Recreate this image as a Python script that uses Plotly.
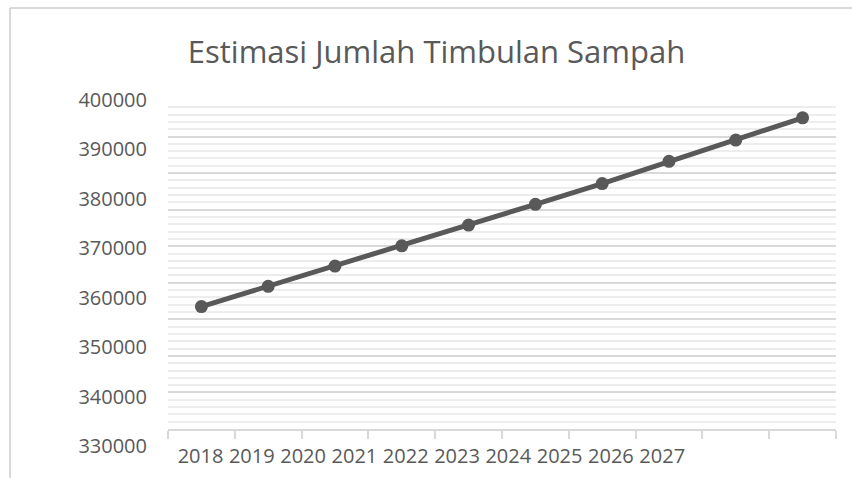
import plotly.graph_objects as go
import numpy as np

years = ["2018", "2019", "2020", "2021", "2022", "2023", "2024", "2025", "2026", "2027"]
values = [358200, 362300, 366400, 370500, 374700, 378900, 383100, 387600, 391900, 396400]
y_label_vals = [330000, 340000, 350000, 360000, 370000, 380000, 390000, 400000]
title_text = "Estimasi Jumlah Timbulan Sampah"

W, H = 852, 478
ML, MR, MT, MB = 100, 16, 100, 20
PW, PH = W - ML - MR, H - MT - MB

def px_x(px):
    return (px - ML) / PW

def px_y(py):
    return (H - MB - py) / PH

TXT = "#595959"
GRID = "#d9d9d9"
MINOR = "#ededed"
FONT = "Open Sans"

# data y-axis: same value->pixel scale as the label axis (400000 @ y=100, 330000 @ y=446)
scale = (446 - 100) / 70000.0
y_top = 400000
y_bot = y_top - (429 - 100) / scale
major = np.linspace(y_bot, y_top, 10)
minor = []
for a, b in zip(major[:-1], major[1:]):
    minor.extend(np.linspace(a, b, 6)[1:-1])

fig = go.Figure()
# invisible trace carrying the label axes
fig.add_trace(go.Scatter(
    x=list(range(len(years))), y=values, mode="markers",
    marker=dict(opacity=0), xaxis="x2", yaxis="y2",
    showlegend=False, hoverinfo="skip"))
fig.add_trace(go.Scatter(
    x=years, y=values, mode="lines+markers",
    line=dict(color="#595959", width=5),
    marker=dict(color="#595959", size=13),
    xaxis="x", yaxis="y", showlegend=False, hoverinfo="x+y"))

lab_step = 51.3
r0 = -(200.5 - 168) / lab_step
r1 = r0 + (836 - 168) / lab_step

fig.update_layout(
    width=W, height=H,
    margin=dict(l=ML, r=MR, t=MT, b=MB, autoexpand=False),
    paper_bgcolor="white", plot_bgcolor="rgba(0,0,0,0)",
    font=dict(family=FONT, color=TXT),
    title=dict(text=title_text, x=436.5 / W, xanchor="center",
               y=1 - 52 / H, yanchor="middle", yref="container",
               font=dict(size=31, color=TXT, family=FONT)),
    xaxis=dict(domain=[px_x(168), 1], type="category", range=[-0.5, 9.5],
               tickson="boundaries", ticks="outside", ticklen=8, tickwidth=2,
               tickcolor=GRID, showline=True, linecolor=GRID, linewidth=2,
               showgrid=False, showticklabels=False, anchor="y", zeroline=False,
               automargin=False),
    yaxis=dict(domain=[px_y(429), 1], range=[y_bot, y_top], tickvals=list(major),
               showticklabels=False, showgrid=True, gridcolor=GRID, gridwidth=2,
               minor=dict(tickvals=minor, showgrid=True, gridcolor=MINOR, gridwidth=2),
               zeroline=False, showline=False, anchor="x", automargin=False),
    xaxis2=dict(domain=[px_x(168), 1], range=[r0, r1], tickvals=list(range(len(years))),
                ticktext=years, anchor="free", position=px_y(442), showgrid=False,
                showline=False, zeroline=False, ticks="", automargin=False,
                tickfont=dict(size=20, color=TXT, family=FONT)),
    yaxis2=dict(domain=[px_y(446), 1], range=[330000, 400000], tickvals=y_label_vals,
                ticktext=[str(v) for v in y_label_vals], anchor="free", position=px_x(147),
                showgrid=False, showline=False, zeroline=False, ticks="", automargin=False,
                tickfont=dict(size=20, color=TXT, family=FONT)),
    shapes=[
        dict(type="line", xref="paper", yref="paper", x0=px_x(10), x1=px_x(10),
             y0=px_y(8), y1=px_y(478), line=dict(color=GRID, width=2)),
        dict(type="line", xref="paper", yref="paper", x0=px_x(10), x1=px_x(860),
             y0=px_y(8), y1=px_y(8), line=dict(color=GRID, width=2)),
    ],
)

fig.write_html("out.html")
